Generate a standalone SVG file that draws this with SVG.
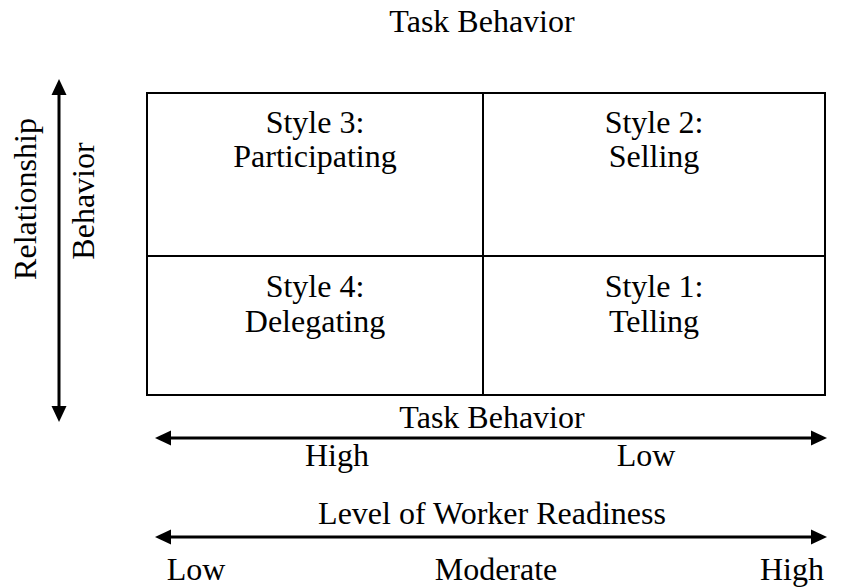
<svg xmlns="http://www.w3.org/2000/svg" width="856" height="588" viewBox="0 0 856 588">
  <style>
    text { font-family: "Liberation Serif", "Times New Roman", serif; font-size: 32px; fill: #000; text-anchor: middle; }
    .grid { fill: none; stroke: #000; stroke-width: 2; }
    .axis { fill: none; stroke: #000; stroke-width: 3; marker-start: url(#head); marker-end: url(#head); }
  </style>
  <defs>
    <marker id="head" markerUnits="userSpaceOnUse" markerWidth="16" markerHeight="16" viewBox="0 -8 16 16" refX="0" refY="0" orient="auto-start-reverse">
      <path d="M0,-7.5 L16,0 L0,7.5 Z" fill="#000"/>
    </marker>
  </defs>

  <rect width="856" height="588" fill="#fff"/>

  <text id="title" x="482" y="32">Task Behavior</text>

  <g id="relationship-axis">
    <text transform="translate(36,199) rotate(-90)">Relationship</text>
    <text transform="translate(94,201) rotate(-90)">Behavior</text>
  </g>

  <g id="matrix">
    <rect class="grid" x="147" y="93" width="678" height="302"/>
    <line class="grid" x1="483" y1="93" x2="483" y2="395"/>
    <line class="grid" x1="147" y1="256" x2="825" y2="256"/>
  </g>

  <g id="style3">
    <text x="315" y="133">Style 3:</text>
    <text x="315" y="167">Participating</text>
  </g>
  <g id="style2">
    <text x="654" y="133">Style 2:</text>
    <text x="654" y="167">Selling</text>
  </g>
  <g id="style4">
    <text x="315" y="297">Style 4:</text>
    <text x="315" y="332">Delegating</text>
  </g>
  <g id="style1">
    <text x="654" y="297">Style 1:</text>
    <text x="654" y="332">Telling</text>
  </g>

  <g id="connectors">
    <line class="axis" x1="59" y1="95" x2="59" y2="406"/>
    <line class="axis" x1="171" y1="438" x2="811" y2="438"/>
    <line class="axis" x1="171" y1="537" x2="811" y2="537"/>
  </g>

  <g id="task-axis-labels">
    <text x="492" y="428">Task Behavior</text>
    <text x="337" y="466">High</text>
    <text x="646" y="466">Low</text>
  </g>

  <g id="readiness-axis-labels">
    <text x="492" y="524">Level of Worker Readiness</text>
    <text x="196" y="580">Low</text>
    <text x="496" y="580">Moderate</text>
    <text x="792" y="580">High</text>
  </g>
</svg>
